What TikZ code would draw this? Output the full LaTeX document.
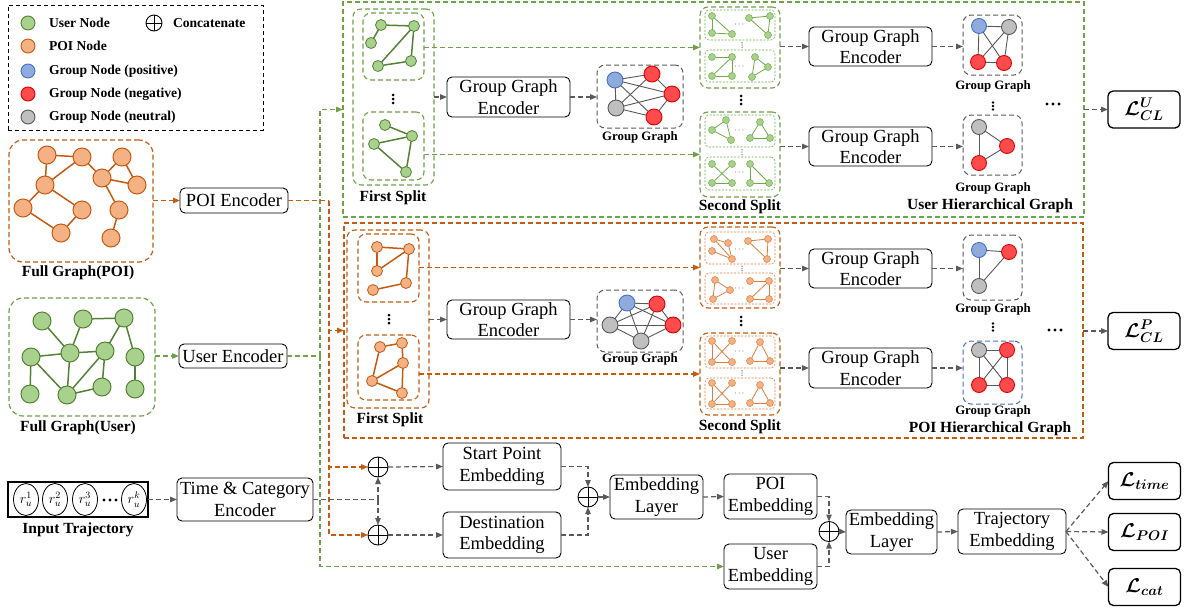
\documentclass[tikz,border=0pt]{standalone}
\usepackage{fix-cm}
\usepackage{amsmath}
\usepackage{bm}
\usepackage{fontspec}
\setmainfont{Liberation Serif}
\usetikzlibrary{arrows.meta,shapes.geometric}

\definecolor{fillg}{HTML}{A9D18E}
\definecolor{lineg}{HTML}{548235}
\definecolor{fillG}{HTML}{A9D18E}
\definecolor{lineG}{HTML}{6FAA45}
\definecolor{fillo}{HTML}{F4B183}
\definecolor{lineo}{HTML}{C55A11}
\definecolor{fillO}{HTML}{F4B183}
\definecolor{lineO}{HTML}{DE7E3E}
\definecolor{fillb}{HTML}{8FAADC}
\definecolor{lineb}{HTML}{4472C4}
\definecolor{fillr}{HTML}{FF4B4B}
\definecolor{liner}{HTML}{E00000}
\definecolor{filln}{HTML}{BFBFBF}
\definecolor{linen}{HTML}{595959}
\definecolor{cgreen}{HTML}{70A04A}
\definecolor{corange}{HTML}{C55A11}
\definecolor{cgray}{HTML}{5A5A5A}
\definecolor{cblue}{HTML}{4472C4}

\newcommand\bxf{\fontsize{18.5}{21.5}\selectfont}
\newcommand\lbf{\fontsize{15.5}{18}\selectfont\bfseries}
\newcommand\ggf{\fontsize{12.8}{14}\selectfont\bfseries}
\newcommand\lgf{\fontsize{13.6}{15}\selectfont\bfseries}
\newcommand\mxf{\fontsize{20}{22}\selectfont}
\newcommand\tyf{\fontsize{8}{8}\selectfont}

% graph: #1 prefix, #2 node style, #3 nodes name/x/y/colour key, #4 edge style, #5 edges
\newcommand\net[5]{%
  \foreach \n/\x/\y/\k in {#3}{\node[#2, fill=fill\k, draw=line\k] (#1\n) at (\x,\y) {};}
  \foreach \ea/\eb in {#5}{\draw[#4] (#1\ea) -- (#1\eb);}
}
% framed region: #1 name, #2 style, #3..#6 corners x1 y1 x2 y2
\newcommand\frm[6]{%
  \node[#2, minimum width={#5-#3}, minimum height={#6-#4}] (#1) at ({(#3+#5)/2},{(#4+#6)/2}) {};
}
% three dots: #1 x, #2 y, #3 gap, #4 radius, #5 colour
\newcommand\vdts[5]{\foreach \dd in {-1,0,1}{\fill[#5] (#1,{#2+\dd*#3}) circle (#4);}}
\newcommand\hdts[5]{\foreach \dd in {-1,0,1}{\fill[#5] ({#1+\dd*#3},#2) circle (#4);}}

\begin{document}
\begin{tikzpicture}[x=1pt,y=-1pt,
  every node/.style={inner sep=0pt,outer sep=0pt},
  box/.style={draw=black,line width=0.9pt,rounded corners=5pt,fill=white,align=center,font=\bxf},
  lbox/.style={draw=black,line width=1.3pt,rounded corners=5pt,fill=white,minimum width=72,minimum height=37,font=\mxf},
  lab/.style={font=\lbf},
  gglab/.style={font=\ggf},
  dsh/.style={dash pattern=on 5pt off 3pt},
  arr/.style={-{Triangle[length=7pt,width=5.5pt]}},
  gcon/.style={draw=cgray,line width=1.2pt,dsh},
  ocon/.style={draw=corange,line width=1.3pt,dsh},
  ucon/.style={draw=cgreen,line width=1.3pt,dsh},
  fullO/.style={draw=corange,line width=1.2pt,dsh,rounded corners=14pt},
  fullG/.style={draw=cgreen,line width=1.2pt,dsh,rounded corners=14pt},
  hierU/.style={draw=cgreen,line width=1.3pt,dsh},
  hierP/.style={draw=corange,line width=1.3pt,dsh},
  splitU/.style={draw=cgreen,line width=1.1pt,dsh,rounded corners=8pt},
  splitO/.style={draw=corange,line width=1.1pt,dsh,rounded corners=8pt},
  subU/.style={draw=lineG,line width=0.6pt,dash pattern=on 2pt off 1.5pt,rounded corners=4pt},
  subO/.style={draw=lineO,line width=0.6pt,dash pattern=on 2pt off 1.5pt,rounded corners=4pt},
  ggbox/.style={draw=cgray,line width=1pt,dsh,rounded corners=8pt},
  ggboxB/.style={draw=cblue,line width=1pt,dsh,rounded corners=8pt},
  legendbox/.style={draw=black,line width=1pt,dash pattern=on 4pt off 3pt},
  bign/.style={circle,minimum size=18,line width=1pt},
  midn/.style={circle,minimum size=11,line width=0.8pt},
  tinyn/.style={circle,minimum size=7,line width=0.5pt},
  grpn/.style={circle,minimum size=16,line width=0.9pt},
  grpm/.style={circle,minimum size=15,line width=0.9pt},
  legn/.style={circle,minimum size=14,line width=0.9pt},
  eO/.style={line width=1.5pt,draw=lineo},
  eG/.style={line width=1.5pt,draw=lineg},
  etO/.style={line width=0.8pt,draw=lineO},
  etG/.style={line width=0.8pt,draw=lineG},
  eN/.style={line width=0.9pt,draw=linen},
  tr/.style={ellipse,draw=black,line width=0.8pt,minimum width=25,minimum height=32,font=\fontsize{14}{14}\selectfont},
  cat/.style={circle,draw=black,line width=0.9pt,minimum size=20,fill=white,
    path picture={\draw[black,line width=0.9pt]
      (path picture bounding box.north)--(path picture bounding box.south)
      (path picture bounding box.west)--(path picture bounding box.east);}},
]
\useasboundingbox (0,0) rectangle (1185,611);

% ---------------- legend ----------------
\frm{legend}{legendbox}{8}{5}{263}{130}
\foreach \nm/\yy/\k/\tx in {U/23/g/User Node, P/46/o/POI Node, B/71/b/Group Node (positive), R/94/r/Group Node (negative), N/117/n/Group Node (neutral)}{
  \node[legn,fill=fill\k,draw=line\k] (lg\nm) at (28,\yy) {};
  \node[anchor=west,font=\lgf] (lgt\nm) at (49,\yy) {\tx};
}
\node[cat,minimum size=16] (lgC) at (154,23) {};
\node[anchor=west,font=\lgf] (lgtC) at (173,23) {Concatenate};

% ---------------- full graphs ----------------
\frm{fullP}{fullO}{9}{140}{153}{262}
\net{fp}{bign}{1/47/155/o, 2/82/157/o, 3/122/157/o, 4/45/185/o, 5/102/178/o, 6/137/185/o, 7/23/208/o, 8/82/210/o, 9/119/210/o, 10/61/233/o, 11/111/238/o}{eO}{1/2,1/4,4/2,2/5,5/3,3/6,5/6,4/7,4/8,7/10,8/10,5/9,9/11}
\node[lab] (fullPl) at (78,273) {Full Graph(POI)};

\frm{fullU}{fullG}{9}{298}{155}{416}
\net{fu}{bign}{1/42/321/g, 2/83/319/g, 3/124/318/g, 4/31/357/g, 5/70/353/g, 6/105/351/g, 7/135/357/g, 8/30/394/g, 9/67/395/g, 10/102/387/g, 11/135/389/g}{eG}{1/5,2/5,2/3,3/6,3/7,4/5,5/6,4/8,4/9,5/9,6/9,6/10,9/10,7/11}
\node[lab] (fullUl) at (78,428) {Full Graph(User)};

\node[box,minimum width=108,minimum height=25] (penc) at (234,200.5) {POI Encoder};
\node[box,minimum width=108,minimum height=24] (uenc) at (233,356) {User Encoder};

% ---------------- user hierarchical graph ----------------
\frm{uH}{hierU}{343}{2}{1084}{217}
\frm{ufs}{splitU}{353}{9}{434}{185}
\frm{ufsA}{splitU}{363}{13}{424}{80}
\frm{ufsB}{splitU}{363}{112}{424}{180}
\net{ua}{midn}{a/381/25/g, b/414/26/g, c/371/43/g, d/378/66/g, e/411/61/g}{eG}{a/c,a/b,b/d,b/e,d/e}
\net{ub}{midn}{a/385/125/g, b/412/136/g, c/374/144/g, d/406/172/g}{eG}{a/b,c/b,c/d,b/d}
\vdts{393}{99}{4}{1.5}{black}
\node[lab] (ufsl) at (393,198) {First Split};

\node[box,minimum width=123,minimum height=40] (ugge1) at (508.5,97) {Group Graph\\Encoder};
\frm{ugg1}{ggbox}{597}{65}{683}{128}
\net{ug1}{grpn}{b/615/80/b, r/652/74/r, s/672/94/r, t/654/117/r, n/616/108/n}{eN}{b/r,b/s,b/t,b/n,n/r,n/s,n/t,r/s,s/t}
\node[gglab] (ugg1l) at (640,137) {Group Graph};

\frm{ussA}{splitU}{700}{7}{780}{88}
\frm{ussB}{splitU}{700}{112}{780}{197}
\frm{ussA1}{subU}{705}{10}{775}{40}
\frm{ussA2}{subU}{705}{50}{775}{82}
\frm{ussB1}{subU}{705}{115}{775}{147}
\frm{ussB2}{subU}{705}{157}{775}{190}
\net{ut1}{tinyn}{a/712/16/G, b/712/33/G, c/732/34/G}{etG}{a/b,a/c,b/c}
\net{ut2}{tinyn}{a/749/18/G, b/770/16/G, c/768/35/G}{etG}{a/b,b/c,a/c}
\net{ut3}{tinyn}{a/712/57/G, b/732/57/G, c/712/76/G, d/732/76/G}{etG}{a/b,b/d,b/c,c/d}
\net{ut4}{tinyn}{a/755/57/G, b/768/67/G, c/752/77/G}{etG}{a/b,b/c,a/c}
\net{ut5}{tinyn}{a/726/120/G, b/712/130/G, c/731/140/G}{etG}{a/b,b/c,a/c}
\net{ut6}{tinyn}{a/760/122/G, b/750/138/G, c/770/138/G}{etG}{a/b,b/c,a/c}
\net{ut7}{tinyn}{a/712/164/G, b/732/164/G, c/712/183/G, d/732/183/G}{etG}{a/d,b/c,c/d}
\net{ut8}{tinyn}{a/750/164/G, b/750/183/G, c/769/183/G}{etG}{a/b,a/c,b/c}
\node[font=\tyf] (ud1) at (740,25) {$\cdots$};
\node[font=\tyf] (ud2) at (740,67) {$\cdots$};
\node[font=\tyf] (ud3) at (740,131) {$\cdots$};
\node[font=\tyf] (ud4) at (740,173) {$\cdots$};
\vdts{742}{45}{2.2}{0.7}{cgray}
\vdts{742}{152}{2.2}{0.7}{cgray}
\vdts{741}{100}{4}{1.5}{black}
\node[lab] (ussl) at (740,207) {Second Split};

\node[box,minimum width=123,minimum height=39] (ugge2) at (870.5,46.5) {Group Graph\\Encoder};
\node[box,minimum width=123,minimum height=39] (ugge3) at (870.5,146.5) {Group Graph\\Encoder};
\frm{ugg2}{ggbox}{963}{15}{1022}{75}
\net{ug2}{grpm}{b/979/26/b, n/1009/27/n, r/978/62/r, s/1004/63/r}{eN}{b/n,b/r,n/s,r/s,b/s,n/r}
\node[gglab] (ugg2l) at (993,86) {Group Graph};
\frm{ugg3}{ggbox}{963}{115}{1022}{175}
\net{ug3}{grpm}{n/979/127/n, r/1007/146/r, s/979/163/r}{eN}{n/r,n/s,r/s}
\node[gglab] (ugg3l) at (993,188) {Group Graph};
\vdts{993}{106}{3.5}{1.3}{black}
\hdts{1053}{104}{6}{1.6}{black}
\node[lab] (uHl) at (990,206) {User Hierarchical Graph};
\node[lbox] (lcu) at (1144,109.5) {$\bm{\mathcal{L}^{U}_{CL}}$};

% ---------------- POI hierarchical graph ----------------
\frm{pH}{hierP}{344}{223}{1083}{438}
\frm{pfs}{splitO}{347}{230}{429}{408}
\frm{pfsA}{splitO}{358}{234}{419}{302}
\frm{pfsB}{splitO}{358}{335}{419}{400}
\net{pa}{midn}{a/377/247/o, b/409/249/o, c/377/271/o, d/373/290/o, e/406/283/o}{eO}{a/b,a/c,c/b,b/e,d/e}
\net{pb}{midn}{a/380/347/o, b/402/343/o, c/403/363/o, d/372/381/o, e/402/393/o}{eO}{a/b,a/d,b/c,c/d,c/e,d/e}
\vdts{389}{319}{4}{1.5}{black}
\node[lab] (pfsl) at (390,420) {First Split};

\node[box,minimum width=123,minimum height=39] (pgge1) at (508.5,319.5) {Group Graph\\Encoder};
\frm{pgg1}{ggbox}{597}{290}{683}{352}
\net{pg1}{grpn}{b/627/303/b, r/657/304/r, s/673/325/r, n/610/325/n, m/641/341/n}{eN}{b/r,b/s,b/n,b/m,r/s,r/n,r/m,s/n,s/m,n/m}
\node[gglab] (pgg1l) at (640,359) {Group Graph};

\frm{pssA}{splitO}{700}{227}{780}{308}
\frm{pssB}{splitO}{700}{333}{780}{415}
\frm{pssA1}{subO}{705}{232}{775}{264}
\frm{pssA2}{subO}{705}{273}{775}{304}
\frm{pssB1}{subO}{705}{336}{775}{368}
\frm{pssB2}{subO}{705}{378}{775}{409}
\net{pt1}{tinyn}{a/714/239/O, b/728/243/O, c/712/251/O, d/732/259/O}{etO}{a/d,b/d,c/d,a/b}
\net{pt2}{tinyn}{a/748/241/O, b/768/239/O, c/767/259/O}{etO}{a/b,b/c,a/c}
\net{pt3}{tinyn}{a/715/280/O, b/730/290/O, c/713/299/O}{etO}{a/b,b/c,a/c}
\net{pt4}{tinyn}{a/750/281/O, b/769/281/O, c/750/299/O, d/769/299/O}{etO}{a/b,b/d,b/c,c/d}
\net{pt5}{tinyn}{a/712/341/O, b/732/341/O, c/712/362/O, d/732/362/O}{etO}{a/d,b/c,a/c,c/d}
\net{pt6}{tinyn}{a/760/342/O, b/750/361/O, c/770/361/O}{etO}{a/b,b/c,a/c}
\net{pt7}{tinyn}{a/712/383/O, b/732/383/O, c/712/404/O, d/732/404/O}{etO}{a/d,b/c,a/c,c/d}
\net{pt8}{tinyn}{a/760/385/O, b/750/403/O, c/770/403/O}{etO}{a/b,b/c,a/c}
\node[font=\tyf] (pd1) at (740,250) {$\cdots$};
\node[font=\tyf] (pd2) at (740,289) {$\cdots$};
\node[font=\tyf] (pd3) at (740,352) {$\cdots$};
\node[font=\tyf] (pd4) at (740,394) {$\cdots$};
\vdts{742}{268.5}{2.2}{0.7}{cgray}
\vdts{742}{373}{2.2}{0.7}{cgray}
\vdts{741}{321}{4}{1.5}{black}
\node[lab] (pssl) at (740,427) {Second Split};

\node[box,minimum width=123,minimum height=39] (pgge2) at (870.5,268.5) {Group Graph\\Encoder};
\node[box,minimum width=123,minimum height=40] (pgge3) at (870.5,368) {Group Graph\\Encoder};
\frm{pgg2}{ggbox}{963}{235}{1022}{300}
\net{pg2}{grpm}{b/979/250/b, r/1009/252/r, n/979/286/n}{eN}{b/r,b/n,r/n}
\node[gglab] (pgg2l) at (993,309) {Group Graph};
\frm{pgg3}{ggboxB}{963}{341}{1022}{404}
\net{pg3}{grpm}{n/979/350/n, r/1007/350/r, s/979/385/r, t/1007/385/r}{eN}{n/r,n/s,r/t,s/t,n/t,r/s}
\node[gglab] (pgg3l) at (993,411) {Group Graph};
\vdts{993}{327}{3.5}{1.3}{black}
\hdts{1055}{330}{6}{1.6}{black}
\node[lab] (pHl) at (990,429) {POI Hierarchical Graph};
\node[lbox] (lcp) at (1144,331) {$\bm{\mathcal{L}^{P}_{CL}}$};

% ---------------- trajectory branch ----------------
\node[draw=black,line width=1.2pt,minimum width=140,minimum height=35] (traj) at (78,499.5) {};
\foreach \nm/\xx in {1/26,2/55,3/85,k/134}{\node[tr] (r\nm) at (\xx,499.5) {$r_u^{\nm}$};}
\hdts{110}{500}{6}{1.7}{black}
\node[lab] (trajl) at (78,530) {Input Trajectory};
\node[box,minimum width=136,minimum height=43] (tce) at (245,499.5) {Time \& Category\\Encoder};

\node[cat] (c1) at (378,467) {};
\node[cat] (c2) at (378,535) {};
\node[box,minimum width=118,minimum height=47] (spe) at (502,466.5) {Start Point\\Embedding};
\node[box,minimum width=118,minimum height=46] (dse) at (502,535) {Destination\\Embedding};
\node[cat] (c3) at (588,497) {};
\node[box,minimum width=93,minimum height=44] (el1) at (656.5,497) {Embedding\\Layer};
\node[box,minimum width=93,minimum height=45] (pemb) at (770.5,496.5) {POI\\Embedding};
\node[box,minimum width=93,minimum height=45] (uemb) at (770.5,566.5) {User\\Embedding};
\node[cat] (c4) at (829,531.5) {};
\node[box,minimum width=91,minimum height=44] (el2) at (891.5,532) {Embedding\\Layer};
\node[box,minimum width=108,minimum height=45] (temb) at (1012,531.5) {Trajectory\\Embedding};
\node[lbox] (lt) at (1144.5,481) {$\bm{\mathcal{L}_{time}}$};
\node[lbox] (lp) at (1144.5,532) {$\bm{\mathcal{L}_{POI}}$};
\node[lbox] (lc) at (1144.5,587) {$\bm{\mathcal{L}_{cat}}$};

% ---------------- connectors ----------------
% user stream
\draw[ucon,arr] (fullU.east |- uenc.west) -- (uenc.west);
\coordinate (gj) at (320,356);
\draw[ucon] (uenc.east) -- (gj);
\draw[ucon,arr] (gj) |- (uH.west);
\draw[ucon,arr] (gj) |- (uemb.west);
% POI stream
\draw[ocon,arr] (fullP.east |- penc.west) -- (penc.west);
\coordinate (oj) at (329,200.5);
\draw[ocon] (penc.east) -- (oj);
\draw[ocon,arr] (oj) |- (pH.west);
\draw[ocon,arr] (oj) |- (c1.west);
\draw[ocon,arr] (oj) |- (c2.west);

% inside the user hierarchical graph
\draw[ucon,arr] (ussA.west -| ufsA.east) -- (ussA.west);
\draw[ucon,arr] (ussB.west -| ufsB.east) -- (ussB.west);
\draw[gcon,arr] (ufs.east) -- (ugge1.west);
\draw[gcon,arr] (ugge1.east) -- (ugge1.east -| ugg1.west);
\draw[gcon,arr] (ugge2.west -| ussA.east) -- (ugge2.west);
\draw[gcon,arr] (ugge3.west -| ussB.east) -- (ugge3.west);
\draw[gcon,arr] (ugge2.east) -- (ugge2.east -| ugg2.west);
\draw[gcon,arr] (ugge3.east) -- (ugge3.east -| ugg3.west);
\draw[gcon,arr] (lcu.west -| uH.east) -- (lcu.west);

% inside the POI hierarchical graph
\draw[ocon,arr] (pssA.west -| pfsA.east) -- (pssA.west);
\draw[ocon,arr] (pssB.west -| pfsB.east) -- (pssB.west);
\draw[gcon,arr] (pgge1.west -| pfs.east) -- (pgge1.west);
\draw[gcon,arr] (pgge1.east) -- (pgge1.east -| pgg1.west);
\draw[gcon,arr] (pgge2.west -| pssA.east) -- (pgge2.west);
\draw[gcon,arr] (pgge3.west -| pssB.east) -- (pgge3.west);
\draw[gcon,arr] (pgge2.east) -- (pgge2.east -| pgg2.west);
\draw[gcon,arr] (pgge3.east) -- (pgge3.east -| pgg3.west);
\draw[gcon,arr] (lcp.west -| pH.east) -- (lcp.west);

% trajectory pipeline
\draw[gcon,arr] (traj.east) -- (tce.west);
\coordinate (tj) at (378,499.5);
\draw[gcon] (tce.east) -- (tj);
\draw[gcon,arr] (tj) -- (c1.south);
\draw[gcon,arr] (tj) -- (c2.north);
\draw[gcon,arr] (c1.east) -- (spe.west);
\draw[gcon,arr] (c2.east) -- (dse.west);
\draw[gcon,arr] (spe.east) -| (c3.north);
\draw[gcon,arr] (dse.east) -| (c3.south);
\draw[gcon,arr] (c3.east) -- (el1.west);
\draw[gcon,arr] (el1.east) -- (pemb.west);
\draw[gcon,arr] (pemb.east) -| (c4.north);
\draw[gcon,arr] (uemb.east) -| (c4.south);
\draw[gcon,arr] (c4.east) -- (el2.west);
\draw[gcon,arr] (el2.east) -- (temb.west);
\draw[gcon,arr] (temb.east) -- (lt.west);
\draw[gcon,arr] (temb.east) -- (lp.west);
\draw[gcon,arr] (temb.east) -- (lc.west);
\end{tikzpicture}
\end{document}
